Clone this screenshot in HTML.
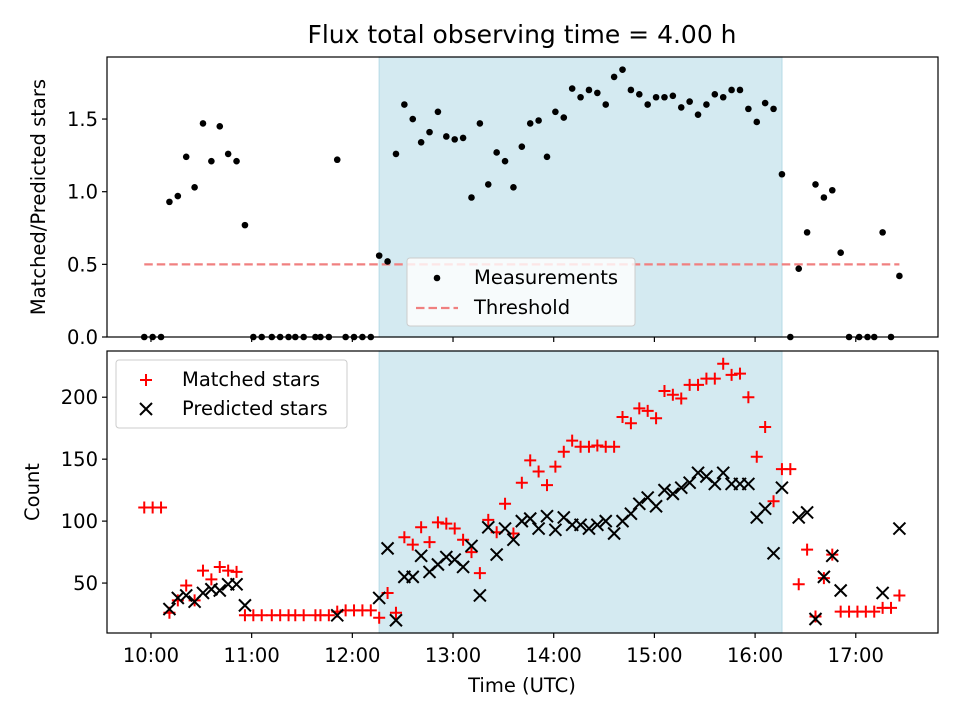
<!DOCTYPE html>
<html><head><meta charset="utf-8"><style>
html,body{margin:0;padding:0;background:#fff}
svg{display:block;font-family:"DejaVu Sans","Liberation Sans",sans-serif}
</style></head><body>
<svg id="chart" width="960" height="720" viewBox="0 0 960 720" xmlns="http://www.w3.org/2000/svg"></svg>
<script>
// ---- data (minutes after 10:00 UTC) ----
const ratioTimes=[-4,1,6,11,16,21,26,31,36,41,46,51,56,61,66,72,77,82,86,91,98,101,106,111,116,121,126,131,136,141,146,151,156,161,166,171,176,181,186,191,196,201,206,211,216,221,226,231,236,241,246,251,256,261,266,271,276,281,286,291,296,301,306,311,316,321,326,331,336,341,346,351,356,361,366,371,376,381,386,391,396,401,406,411,416,422,427,431,436,441,446];
const ratioValues=[0,0,0,0.93,0.97,1.24,1.03,1.47,1.21,1.45,1.26,1.21,0.77,0,0,0,0,0,0,0,0,0,0,1.22,0,0,0,0,0.56,0.52,1.26,1.6,1.5,1.34,1.41,1.55,1.38,1.36,1.37,0.96,1.47,1.05,1.27,1.21,1.03,1.31,1.47,1.49,1.24,1.55,1.51,1.71,1.65,1.70,1.68,1.60,1.79,1.84,1.70,1.67,1.60,1.65,1.65,1.66,1.58,1.62,1.53,1.60,1.67,1.65,1.70,1.70,1.57,1.48,1.61,1.57,1.12,0,0.47,0.72,1.05,0.96,1.01,0.58,0,0,0,0,0.72,0,0.42];
const threshold=0.5;
const thresholdStart=-4, thresholdEnd=446;
const obsStart=136, obsEnd=376;
const matchedTimes=[-4,1,6,11,16,21,26,31,36,41,46,51,56,61,66,72,77,82,86,91,98,101,106,111,116,121,126,131,136,141,146,151,156,161,166,171,176,181,186,191,196,201,206,211,216,221,226,231,236,241,246,251,256,261,266,271,276,281,286,291,296,301,306,311,316,321,326,331,336,341,346,351,356,361,366,371,376,381,386,391,396,401,406,411,416,421,426,431,436,441,446];
const matchedValues=[111,111,111,26,36,48,36,60,53,63,60,59,24,24,24,24,24,24,24,24,24,24,24,27,28,28,28,28,22,42,26,87,81,95,83,99,98,94,85,75,58,101,91,114,90,131,149,140,129,144,156,165,160,160,161,160,160,184,179,191,189,183,205,202,199,210,210,215,215,227,218,219,200,152,176,116,142,142,49,77,23,54,73,27,27,27,27,27,30,30,40];
const predictedTimes=[11,16,21,26,31,36,41,46,51,56,111,136,141,146,151,156,161,166,171,176,181,186,191,196,201,206,211,216,221,226,231,236,241,246,251,256,261,266,271,276,281,286,291,296,301,306,311,316,321,326,331,336,341,346,351,356,361,366,371,376,386,391,396,401,406,411,436,446];
const predictedValues=[29,38,40,35,42,45,44,49,49,32,24,38,78,20,55,55,72,59,65,71,69,63,80,40,95,73,94,85,100,102,94,104,93,103,97,97,94,97,100,90,100,106,114,119,112,125,122,127,131,139,136,130,139,130,130,130,103,110,74,127,103,107,21,55,72,44,42,94];
const xTickMinutes=[0,60,120,180,240,300,360,420];
const xTickLabels=["10:00","11:00","12:00","13:00","14:00","15:00","16:00","17:00"];
const topTicks=[0,0.5,1.0,1.5];
const topTickLabels=["0.0","0.5","1.0","1.5"];
const botTicks=[50,100,150,200];
const botTickLabels=["50","100","150","200"];

// ---- layout ----
const L=107,R=938;
const T1=57,B1=337,T2=351,B2=633;
const xMin=-26.2,xMax=469;
const y1Min=0,y1Max=1.927;
const y2Min=9.7,y2Max=237.3;
const X=m=>L+(m-xMin)/(xMax-xMin)*(R-L);
const Y1=v=>B1-(v-y1Min)/(y1Max-y1Min)*(B1-T1);
const Y2=v=>B2-(v-y2Min)/(y2Max-y2Min)*(B2-T2);
const FS=19.5;

const svg=document.getElementById('chart');
const NS='http://www.w3.org/2000/svg';
function mk(tag,attrs,parent){const e=document.createElementNS(NS,tag);for(const k in attrs)e.setAttribute(k,attrs[k]);(parent||svg).appendChild(e);return e;}

let t=mk('text',{x:522,y:43,'text-anchor':'middle','font-size':25,fill:'#000'});
t.textContent='Flux total observing time = 4.00 h';



function panel(top,bot,name){
  let s=mk('rect',{x:X(obsStart),y:top,width:X(obsEnd)-X(obsStart),height:bot-top,fill:'#d4eaf1',stroke:'#bcdde8','stroke-width':1.2});
  
  
}
panel(T1,B1,'top');
panel(T2,B2,'bottom');

let th=mk('line',{x1:X(thresholdStart),x2:X(thresholdEnd),y1:Y1(threshold),y2:Y1(threshold),stroke:'#f08080','stroke-width':2.2,'stroke-dasharray':'8.5 4'});



const gm=mk('g',{});


ratioTimes.forEach((m,i)=>{
  const c=mk('circle',{cx:X(m),cy:Y1(ratioValues[i]),r:3.3,fill:'#000'},gm);
  
  
});

const gr=mk('g',{stroke:'#ff0000','stroke-width':2});


matchedTimes.forEach((m,i)=>{
  const x=X(m),y=Y2(matchedValues[i]);
  const p=mk('path',{d:`M${x-6} ${y}H${x+6}M${x} ${y-6}V${y+6}`,fill:'none'},gr);
  
  
});
const gp=mk('g',{stroke:'#000','stroke-width':2});


predictedTimes.forEach((m,i)=>{
  const x=X(m),y=Y2(predictedValues[i]);
  const p=mk('path',{d:`M${x-6} ${y-6}L${x+6} ${y+6}M${x-6} ${y+6}L${x+6} ${y-6}`,fill:'none'},gp);
  
  
});

[[T1,B1,'top-panel-frame'],[T2,B2,'bottom-panel-frame']].forEach(([a,b,n])=>{
  const r=mk('rect',{x:L,y:a,width:R-L,height:b-a,fill:'none',stroke:'#000','stroke-width':1.2});
  
  
});

xTickMinutes.forEach((m,i)=>{
  const x=X(m);
  mk('line',{x1:x,x2:x,y1:B1,y2:B1+5,stroke:'#000','stroke-width':1.2});
  mk('line',{x1:x,x2:x,y1:B2,y2:B2+5,stroke:'#000','stroke-width':1.2});
  const tx=mk('text',{x:x,y:B2+29,'text-anchor':'middle','font-size':FS});
  tx.textContent=xTickLabels[i];
  
  
});
topTicks.forEach((v,i)=>{
  const y=Y1(v);
  mk('line',{x1:L-5,x2:L,y1:y,y2:y,stroke:'#000','stroke-width':1.2});
  const tx=mk('text',{x:L-9,y:y+7,'text-anchor':'end','font-size':FS});
  tx.textContent=topTickLabels[i];
  
  
});
botTicks.forEach((v,i)=>{
  const y=Y2(v);
  mk('line',{x1:L-5,x2:L,y1:y,y2:y,stroke:'#000','stroke-width':1.2});
  const tx=mk('text',{x:L-9,y:y+7,'text-anchor':'end','font-size':FS});
  tx.textContent=botTickLabels[i];
  
  
});

let xl=mk('text',{x:522,y:692,'text-anchor':'middle','font-size':FS});
xl.textContent='Time (UTC)';


let yl1=mk('text',{x:0,y:0,'text-anchor':'middle','font-size':FS,transform:`translate(45,${(T1+B1)/2}) rotate(-90)`});
yl1.textContent='Matched/Predicted stars';


let yl2=mk('text',{x:0,y:0,'text-anchor':'middle','font-size':FS,transform:`translate(39,${(T2+B2)/2}) rotate(-90)`});
yl2.textContent='Count';



const lg1=mk('g',{});


mk('rect',{x:407,y:258,width:228,height:68,rx:3,fill:'#fff','fill-opacity':0.8,stroke:'#ccc','stroke-width':1},lg1);
mk('circle',{cx:437,cy:278,r:3.3,fill:'#000'},lg1);
mk('line',{x1:416,x2:458,y1:308,y2:308,stroke:'#f08080','stroke-width':2.2,'stroke-dasharray':'8.5 4'},lg1);
let a=mk('text',{x:474,y:284,'font-size':FS},lg1);a.textContent='Measurements';


let b=mk('text',{x:474,y:314,'font-size':FS},lg1);b.textContent='Threshold';



const lg2=mk('g',{});


mk('rect',{x:116,y:360,width:231,height:68,rx:3,fill:'#fff','fill-opacity':0.8,stroke:'#ccc','stroke-width':1},lg2);
mk('path',{d:'M140 380H152M146 374V386',stroke:'#f00','stroke-width':2,fill:'none'},lg2);
mk('path',{d:'M140 403L152 415M140 415L152 403',stroke:'#000','stroke-width':2,fill:'none'},lg2);
let c=mk('text',{x:182,y:386,'font-size':FS},lg2);c.textContent='Matched stars';


let d=mk('text',{x:182,y:415,'font-size':FS},lg2);d.textContent='Predicted stars';


</script>
</body></html>
